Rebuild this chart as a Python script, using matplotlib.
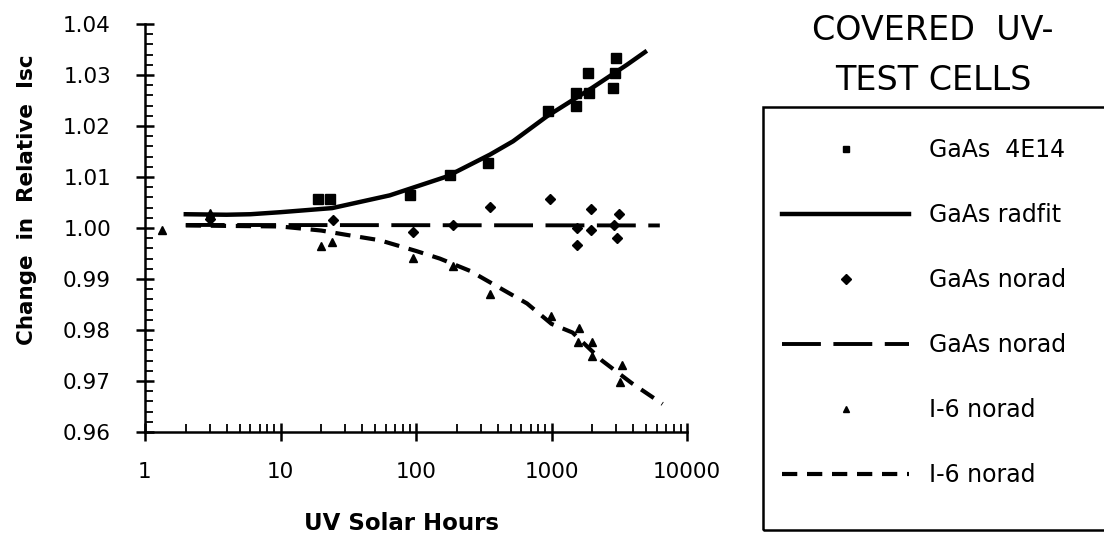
import numpy as np
import matplotlib
matplotlib.use("Agg")
import matplotlib.pyplot as plt
from matplotlib.patches import Rectangle
from matplotlib.ticker import FixedLocator, MultipleLocator, LogLocator, NullFormatter

plt.rcParams['font.family'] = ['DejaVu Sans']
plt.rcParams['lines.scale_dashes'] = False

# GaAs 4E14 measured points
sq_hours = [18.9, 23.2, 90, 178, 340, 942, 1517, 1517, 1892, 1870, 2844, 2960, 3000]
sq_vals = [1.0057, 1.0057, 1.0064, 1.0103, 1.0127, 1.0230, 1.0240, 1.0265, 1.0265, 1.0304, 1.0275, 1.0304, 1.0334]

# GaAs radfit curve
fit_hours = [2, 4, 6, 10, 24, 64, 169, 352, 520, 925, 2000, 3600, 4900]
fit_vals = [1.0027, 1.0026, 1.0027, 1.0031, 1.0039, 1.0064, 1.0101, 1.0144, 1.0170, 1.0219, 1.0275, 1.0320, 1.0345]

# GaAs norad points
dia_hours = [3, 24.4, 95, 187, 352, 980, 1540, 1540, 1960, 1960, 2900, 3050, 3150]
dia_vals = [1.0017, 1.0016, 0.9992, 1.0006, 1.0041, 1.0057, 1.0000, 0.9967, 1.0037, 0.9996, 1.0006, 0.9980, 1.0027]

# GaAs norad fit
gn_hours = [2, 6300]
gn_vals = [1.0006, 1.0005]

# I-6 norad points
tri_hours = [1.33, 3, 20, 24, 95, 187, 352, 991, 1597, 1570, 1990, 1990, 3314, 3200]
tri_vals = [0.9996, 1.0029, 0.9964, 0.9972, 0.9941, 0.9926, 0.9871, 0.9828, 0.9803, 0.9776, 0.9776, 0.9750, 0.9731, 0.9698]

# I-6 norad fit
i6_hours = [2, 10, 20, 30, 54, 100, 150, 250, 400, 660, 1000, 1430, 2360, 3900, 6600]
i6_vals = [1.0005, 1.0003, 0.9995, 0.9987, 0.9976, 0.9955, 0.9940, 0.9916, 0.9885, 0.9852, 0.9812, 0.9795, 0.9740, 0.9696, 0.9655]

xticks = [1, 10, 100, 1000, 10000]
xticklabels = ['1', '10', '100', '1000', '10000']
yticks = [0.96, 0.97, 0.98, 0.99, 1.00, 1.01, 1.02, 1.03, 1.04]

W, H = 1104, 538
fig = plt.figure(figsize=(W / 100, H / 100), dpi=100)
ax = fig.add_axes([145 / W, 1 - 432 / H, (687 - 145) / W, (432 - 24) / H])

h1, = ax.plot(sq_hours, sq_vals, 's', color='black', markersize=6.5, label='GaAs  4E14')
h2, = ax.plot(fit_hours, fit_vals, '-', color='black', linewidth=3.2, label='GaAs radfit')
h3, = ax.plot(dia_hours, dia_vals, 'D', color='black', markersize=5, label='GaAs norad')
h4, = ax.plot(gn_hours, gn_vals, color='black', linewidth=2.8, dashes=(28, 9), label='GaAs norad')
h5, = ax.plot(tri_hours, tri_vals, '^', color='black', markersize=6, label='I-6 norad')
h6, = ax.plot(i6_hours, i6_vals, color='black', linewidth=3, dashes=(11, 7), label='I-6 norad')

ax.set_xscale('log')
ax.set_xlim(1, 10000)
ax.set_ylim(0.96, 1.04)
ax.xaxis.set_major_locator(FixedLocator(xticks))
ax.set_xticklabels(xticklabels)
ax.xaxis.set_minor_locator(LogLocator(base=10, subs=np.arange(2, 10)))
ax.xaxis.set_minor_formatter(NullFormatter())
ax.set_yticks(yticks)
ax.set_yticklabels(['%.2f' % v for v in yticks])
ax.yaxis.set_minor_locator(MultipleLocator(0.002))

for s in ['top', 'right']:
    ax.spines[s].set_visible(False)
for s in ['left', 'bottom']:
    ax.spines[s].set_linewidth(1.8)

ax.tick_params(which='major', direction='inout', length=13, width=1.8, labelsize=15.5)
ax.tick_params(axis='y', which='major', pad=18)
ax.tick_params(axis='x', which='major', pad=15)
ax.tick_params(which='minor', direction='in', length=6, width=1.3)

fig.text(27 / W, 1 - 200 / H, 'Change  in  Relative  Isc', rotation=90,
         ha='center', va='center', fontsize=15.5, fontweight='bold')
fig.text(401 / W, 1 - 523 / H, 'UV Solar Hours', ha='center', va='center',
         fontsize=16.5, fontweight='bold')

fig.text(933 / W, 1 - 30 / H, 'COVERED  UV-', ha='center', va='center', fontsize=24)
fig.text(933 / W, 1 - 80 / H, 'TEST CELLS', ha='center', va='center', fontsize=24)

# legend box (runs off the right edge like the original)
fig.add_artist(Rectangle((763 / W, 1 - 530 / H), 400 / W, (530 - 107) / H,
                         transform=fig.transFigure, fill=False,
                         edgecolor='black', linewidth=1.8))

leg = fig.legend(handles=[h1, h2, h3, h4, h5, h6], loc='upper left',
                 bbox_to_anchor=(763 / W, 1 - 119 / H),
                 borderaxespad=0, fontsize=17, numpoints=1, handlelength=5.4,
                 handletextpad=0.85, labelspacing=1.74, borderpad=0.8,
                 frameon=False)
for lh in leg.legend_handles:
    if lh.get_marker() not in (None, 'None', ''):
        lh.set_markersize(5)

fig.savefig('out.png', dpi=100, facecolor='white')
